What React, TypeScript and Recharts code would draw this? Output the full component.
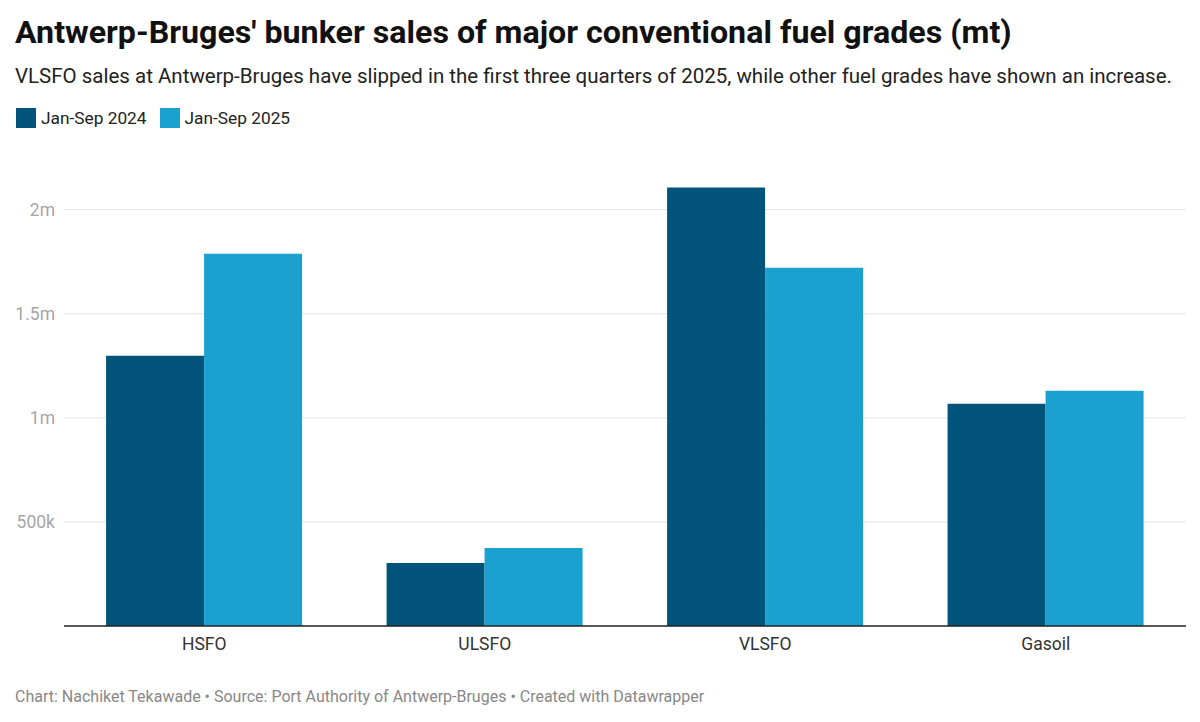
import React from 'react';
import { BarChart, Bar, XAxis, YAxis, CartesianGrid } from 'recharts';

const fuels = ['HSFO', 'ULSFO', 'VLSFO', 'Gasoil'];
const sales2024 = [1298000, 303000, 2106000, 1067000];
const sales2025 = [1788000, 375000, 1721000, 1130000];
const yTicks = [0, 500000, 1000000, 1500000, 2000000];
const yTickLabels = ['', '500k', '1m', '1.5m', '2m'];
const Y_MAX = 2200000;

const DARK = '#03547b';
const LIGHT = '#1aa1cf';
const FONT = 'Roboto, sans-serif';

const data = fuels.map((name, i) => ({ name, y2024: sales2024[i], y2025: sales2025[i] }));

const YTick = ({ x, y, payload }: any) => {
  const idx = yTicks.indexOf(payload.value);
  return (
    <text x={x - 1} y={y} dy={6} textAnchor="end" fill="#a6a6a6" fontSize={17.5} fontFamily={FONT}>
      {yTickLabels[idx]}
    </text>
  );
};

const XTick = ({ x, y, payload }: any) => (
  <text x={x} y={y} dy={16} textAnchor="middle" fill="#333" fontSize={17.5} fontFamily={FONT}>
    {payload.value}
  </text>
);

const LegendItem = ({ color, label }: { color: string; label: string }) => (
  <div style={{ display: 'flex', alignItems: 'center', marginRight: 13 }}>
    <div style={{ width: 20, height: 20, background: color, marginRight: 5 }} />
    <span style={{ fontSize: 17.3, color: '#222' }}>{label}</span>
  </div>
);

// grid only at the labelled ticks, no line at the top edge of the plot
const gridLines = ({ offset }: any) =>
  yTicks.slice(1).map((v) => offset.top + offset.height * (1 - v / Y_MAX));

export default function App() {
  return (
    <div style={{ position: 'relative', width: 1200, height: 722, fontFamily: FONT, background: '#fff' }}>
      <style>{`body{margin:0}`}</style>
      <div style={{ position: 'absolute', left: 15, top: 13, fontSize: 32.2, fontWeight: 700, color: '#111', whiteSpace: 'nowrap' }}>
        Antwerp-Bruges' bunker sales of major conventional fuel grades (mt)
      </div>
      <div style={{ position: 'absolute', left: 15, top: 64, fontSize: 20.5, color: '#222', whiteSpace: 'nowrap' }}>
        VLSFO sales at Antwerp-Bruges have slipped in the first three quarters of 2025, while other fuel grades have shown an increase.
      </div>
      <div style={{ position: 'absolute', left: 16, top: 108, display: 'flex' }}>
        <LegendItem color={DARK} label="Jan-Sep 2024" />
        <LegendItem color={LIGHT} label="Jan-Sep 2025" />
      </div>
      <div style={{ position: 'absolute', left: 0, top: 0 }}>
        <BarChart
          width={1200}
          height={722}
          data={data}
          margin={{ top: 168, right: 14, left: 0, bottom: 66 }}
          barCategoryGap="15%"
          barGap={0}
        >
          <CartesianGrid vertical={false} stroke="#e5e5e5" horizontalCoordinatesGenerator={gridLines} />
          <YAxis
            width={64}
            domain={[0, Y_MAX]}
            ticks={yTicks}
            axisLine={false}
            tickLine={false}
            tick={<YTick />}
          />
          <XAxis
            dataKey="name"
            height={30}
            axisLine={{ stroke: '#222', strokeWidth: 1.5 }}
            tickLine={false}
            tick={<XTick />}
          />
          <Bar dataKey="y2024" fill={DARK} isAnimationActive={false} />
          <Bar dataKey="y2025" fill={LIGHT} isAnimationActive={false} />
        </BarChart>
      </div>
      <div style={{ position: 'absolute', left: 15, top: 687, fontSize: 16, color: '#888', whiteSpace: 'nowrap' }}>
        Chart: Nachiket Tekawade • Source: Port Authority of Antwerp-Bruges • Created with Datawrapper
      </div>
    </div>
  );
}
